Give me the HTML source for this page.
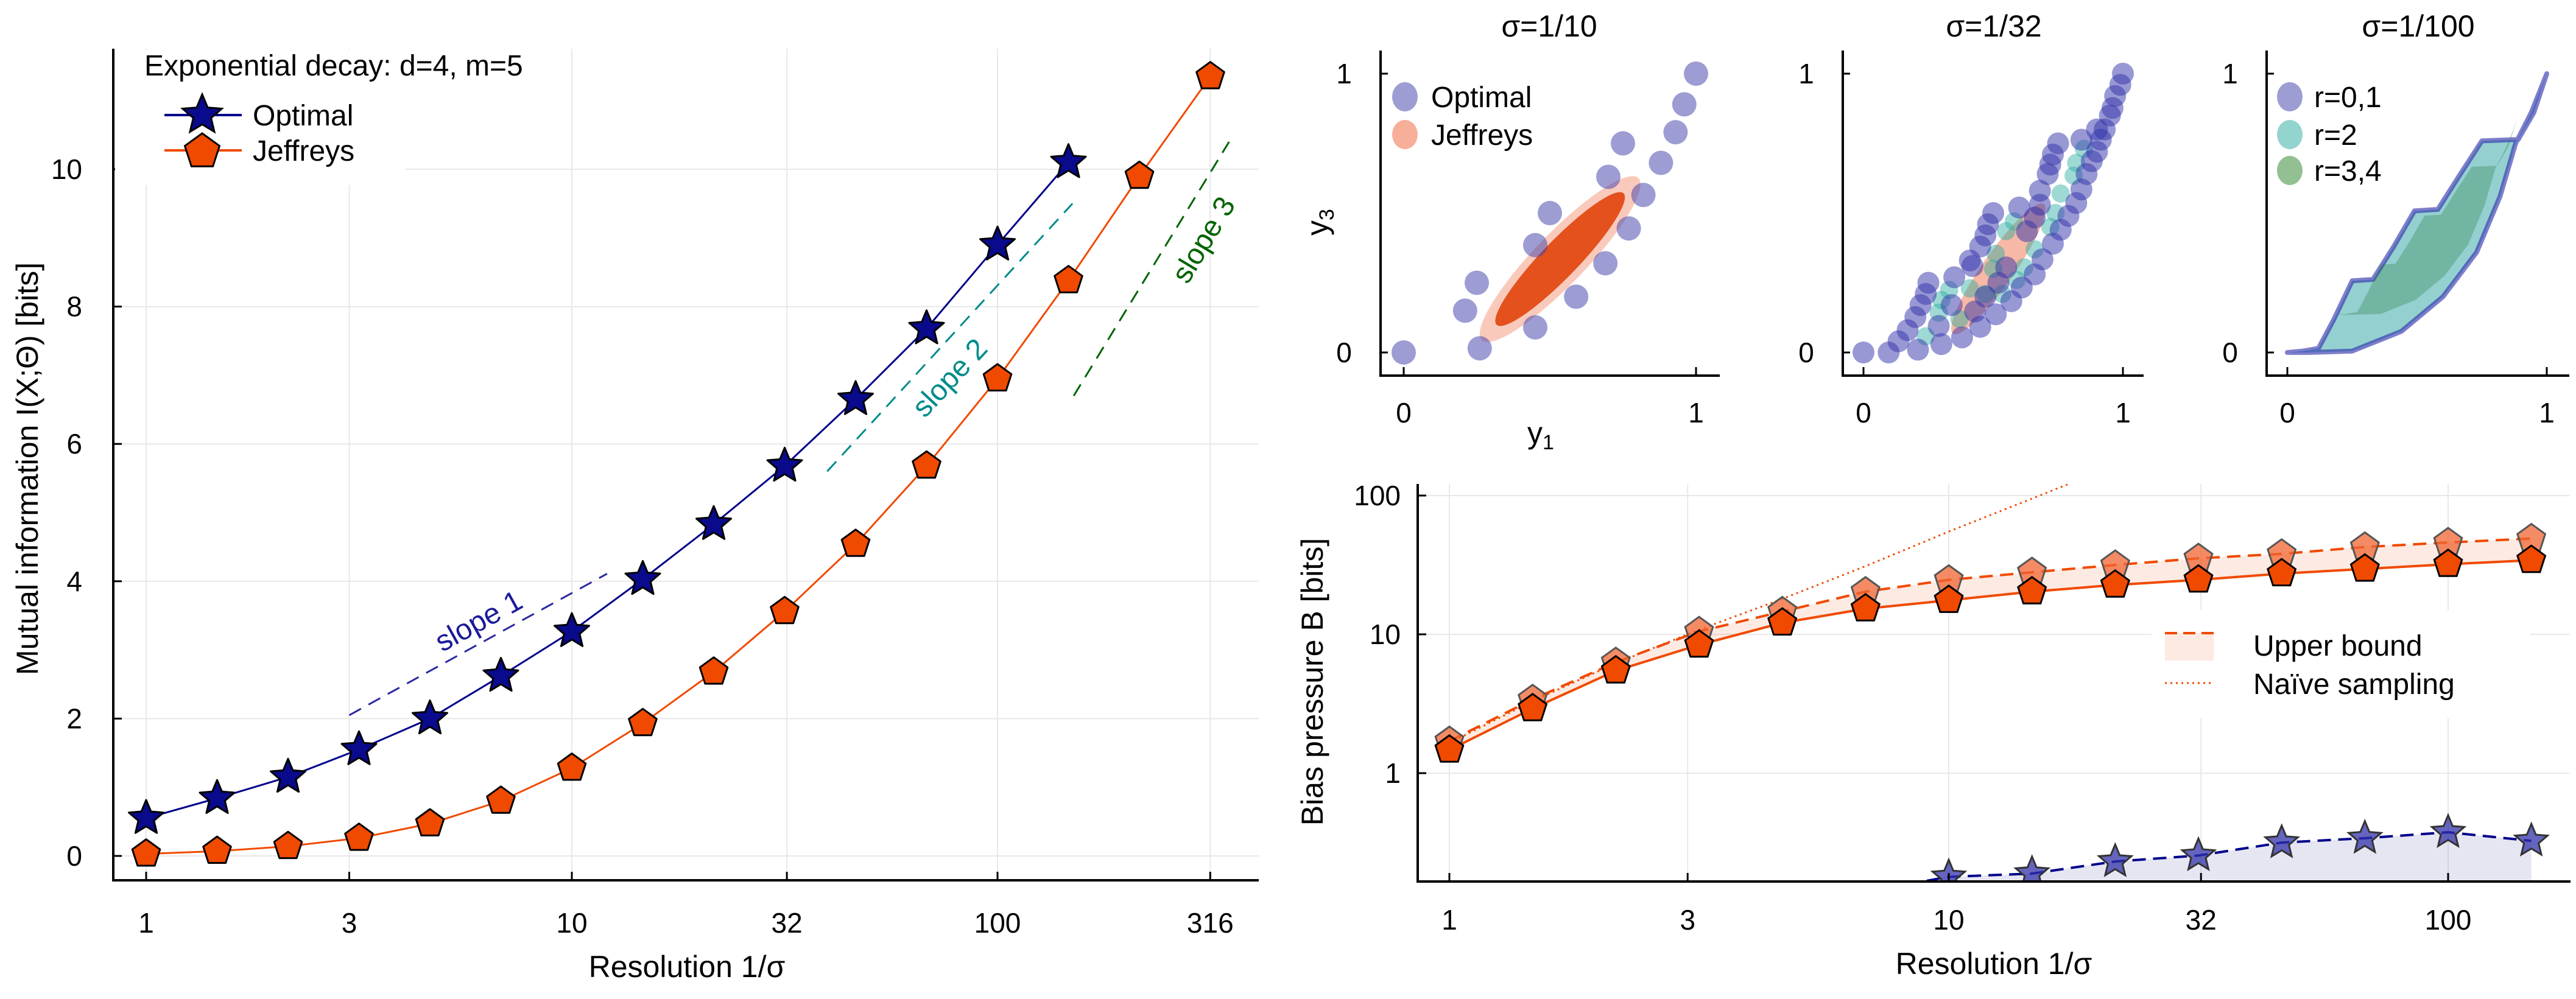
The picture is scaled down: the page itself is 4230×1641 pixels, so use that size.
<!DOCTYPE html>
<html><head><meta charset="utf-8"><title>Mutual information and bias pressure</title>
<style>
html,body{margin:0;padding:0;background:#fff;}
svg{display:block;font-family:"Liberation Sans","DejaVu Sans",sans-serif;}
.tk{font-size:46px;fill:#000;}
.lab{font-size:50px;fill:#000;}
.leg{font-size:48px;fill:#000;}
</style></head>
<body>
<svg id="fig" width="4230" height="1641" viewBox="0 0 4230 1641" xmlns="http://www.w3.org/2000/svg">
<defs>
<clipPath id="clipL"><rect x="186" y="75" width="1885" height="1373"/></clipPath>
<clipPath id="clipB"><rect x="2328" y="795" width="1893" height="653"/></clipPath>
</defs>
<rect x="0" y="0" width="4230" height="1641" fill="#fff"/>
<g id="gridL"></g>
<g id="gridB"></g>
<g id="marksL" clip-path="url(#clipL)"></g>
<g id="marksB" clip-path="url(#clipB)"></g>
<g id="scat"></g>
<g id="axes"></g>

<text class="lab" x="1128" y="1605" text-anchor="middle">Resolution 1/σ</text>
<text class="lab" transform="translate(62,770) rotate(-90)" text-anchor="middle">Mutual information I(X;Θ) [bits]</text>
<text class="lab" x="3274" y="1600" text-anchor="middle">Resolution 1/σ</text>
<text class="lab" transform="translate(2172,1120) rotate(-90)" text-anchor="middle">Bias pressure B [bits]</text>
<text class="lab" x="2544" y="60" text-anchor="middle">σ=1/10</text>
<text class="lab" x="3274" y="60" text-anchor="middle">σ=1/32</text>
<text class="lab" x="3971" y="60" text-anchor="middle">σ=1/100</text>
<text class="lab" x="2530" y="728" text-anchor="middle">y<tspan font-size="34" dy="10">1</tspan></text>
<text class="lab" transform="translate(2180,365) rotate(-90)" text-anchor="middle">y<tspan font-size="34" dy="10">3</tspan></text>
</svg>
<script>
// ---------- data ----------
const optK = [0,1,2,3,4,5,6,7,8,9,10,11,12,13];
const optMI = [0.55,0.84,1.15,1.55,2.0,2.62,3.27,4.03,4.83,5.68,6.65,7.68,8.9,10.1];
const jefK = [0,1,2,3,4,5,6,7,8,9,10,11,12,13,14,15];
const jefMI = [0.03,0.07,0.14,0.26,0.47,0.8,1.28,1.93,2.68,3.56,4.54,5.68,6.95,8.38,9.9,11.35];
const slopeX = [[3,12.1],[39.8,150],[151,350]];
const slopeY = [[2.05,4.11],[5.6,9.5],[6.7,10.4]];
const xTickVals = [1,3,10,32,100,316];
const xTickLabels = ['1','3','10','32','100','316'];
const yTickVals = [0,2,4,6,8,10];
const yTickLabels = ['0','2','4','6','8','10'];

const bK = [0,1,2,3,4,5,6,7,8,9,10,11,12,13];
const bJef = [1.47,2.92,5.47,8.4,12.1,15.3,17.6,20.3,22.7,24.7,27.4,29.6,32,34.2];
const bUpper = [1.7,3.4,6.3,10.5,14.6,20.3,24.7,28,31.6,35.3,38,42.6,45.9,49];
const bNaiveK = [0,1,2,3,4,5,6,7,8];
const bNaive = [1.65,3.3,6.2,10.8,18,31,55,95,165];
const bOptK = [5,6,7,8,9,10,11,12,13];
const bOpt = [0.14,0.179,0.189,0.231,0.255,0.316,0.34,0.375,0.325];
const bXTickVals = [1,3,10,32,100];
const bXTickLabels = ['1','3','10','32','100'];
const bYTickVals = [1,10,100];
const bYTickLabels = ['1','10','100'];

const s1OptU = [0,0.26,0.21,0.25,0.45,0.59,0.45,0.69,0.5,0.77,0.7,0.82,0.88,0.75,0.93,0.96,1];
const s1OptV = [0,0.015,0.15,0.25,0.09,0.2,0.385,0.32,0.5,0.445,0.63,0.565,0.68,0.75,0.79,0.89,1];
const s2OptU = [0,0.097,0.135,0.17,0.2,0.22,0.24,0.25,0.21,0.3,0.38,0.45,0.51,0.57,0.61,0.66,0.69,0.73,0.76,0.79,0.82,0.84,0.86,0.88,0.9,0.915,0.93,0.95,0.96,0.97,0.99,1,0.29,0.34,0.35,0.42,0.41,0.45,0.47,0.48,0.5,0.6,0.63,0.66,0.68,0.68,0.71,0.72,0.73,0.75,0.84,0.9,0.55,0.52,0.47,0.43];
const s2OptV = [0,0,0.04,0.08,0.127,0.17,0.21,0.25,0.01,0.03,0.054,0.092,0.137,0.184,0.233,0.28,0.334,0.39,0.44,0.49,0.536,0.585,0.64,0.686,0.72,0.763,0.8,0.85,0.877,0.92,0.96,1,0.095,0.17,0.27,0.31,0.33,0.38,0.42,0.46,0.5,0.52,0.435,0.484,0.53,0.58,0.64,0.674,0.71,0.75,0.763,0.8,0.305,0.25,0.2,0.147];
const s2TealU = [0.24,0.29,0.3,0.33,0.37,0.41,0.47,0.5,0.51,0.55,0.58,0.62,0.66,0.72,0.74,0.76,0.81,0.82,0.85,0.59,0.535];
const s2TealV = [0.058,0.143,0.188,0.224,0.12,0.23,0.21,0.3,0.354,0.435,0.47,0.305,0.37,0.45,0.5,0.57,0.634,0.68,0.73,0.26,0.21];
const s3UpperU = [0,0.06,0.12,0.18,0.25,0.33,0.41,0.49,0.58,0.66,0.75,0.89,0.95,1];
const s3UpperV = [0,0.005,0.015,0.12,0.257,0.262,0.38,0.508,0.513,0.63,0.759,0.764,0.86,1];
const s3LowerU = [1,0.94,0.88,0.82,0.73,0.6,0.44,0.25,0.08];
const s3LowerV = [1,0.86,0.75,0.56,0.36,0.2,0.076,0.005,0];

// ---------- helpers ----------
const NS='http://www.w3.org/2000/svg';
function mk(parent, tag, attrs, name){
  const el=document.createElementNS(NS,tag);
  for(const k in attrs) el.setAttribute(k,attrs[k]);
  
  
  parent.appendChild(el);
  return el;
}
function txt(parent, x,y,s,cls,anchor,name){
  const t=mk(parent,'text',{x:x,y:y,'class':cls,'text-anchor':anchor},name);
  t.textContent=s; return t;
}
function starPts(cx,cy,R){const r=R*0.45;let p=[];for(let i=0;i<10;i++){const a=-Math.PI/2+i*Math.PI/5;const rr=i%2?r:R;p.push((cx+rr*Math.cos(a)).toFixed(1)+','+(cy+rr*Math.sin(a)).toFixed(1));}return p.join(' ');}
function pentPts(cx,cy,R){let p=[];for(let i=0;i<5;i++){const a=-Math.PI/2+i*2*Math.PI/5;p.push((cx+R*Math.cos(a)).toFixed(1)+','+(cy+R*Math.sin(a)).toFixed(1));}return p.join(' ');}

const gridL=document.getElementById('gridL'), gridB=document.getElementById('gridB');
const mL=document.getElementById('marksL'), mB=document.getElementById('marksB');
const axes=document.getElementById('axes'), scat=document.getElementById('scat');
const svg=document.getElementById('fig');

// ---------- left panel ----------
const LX=v=>240+699*Math.log10(v);
const LY=v=>1406-112.8*v;
const kx=k=>Math.pow(10,k/6);
xTickVals.forEach((v,i)=>{
  mk(gridL,'line',{x1:LX(v),x2:LX(v),y1:80,y2:1446,stroke:'#e8e8e8','stroke-width':2},'left-x-gridline');
  mk(axes,'line',{x1:LX(v),x2:LX(v),y1:1446,y2:1432,stroke:'#000','stroke-width':3},'left-x-tick');
  txt(axes,LX(v),1532,xTickLabels[i],'tk','middle','left-x-tick-label');
});
yTickVals.forEach((v,i)=>{
  mk(gridL,'line',{x1:186,x2:2067,y1:LY(v),y2:LY(v),stroke:'#e8e8e8','stroke-width':2},'left-y-gridline');
  mk(axes,'line',{x1:186,x2:200,y1:LY(v),y2:LY(v),stroke:'#000','stroke-width':3},'left-y-tick');
  txt(axes,135,LY(v)+16,yTickLabels[i],'tk','end','left-y-tick-label');
});
mk(axes,'line',{x1:186,x2:2067,y1:1446,y2:1446,stroke:'#000','stroke-width':4},'left-x-axis');
mk(axes,'line',{x1:186,x2:186,y1:80,y2:1448,stroke:'#000','stroke-width':4},'left-y-axis');

const slopeCols=['#2a2aa0','#008b8b','#006400'];
slopeX.forEach((xs,i)=>{
  mk(mL,'line',{x1:LX(xs[0]),y1:LY(slopeY[i][0]),x2:LX(xs[1]),y2:LY(slopeY[i][1]),stroke:slopeCols[i],'stroke-width':3,'stroke-dasharray':'22 14'},'slope-line');
});
const slopeLab=[['slope 1',787,1022,-29,'#1a1a9a'],['slope 2',1561,622,-47,'#008b8b'],['slope 3',1978,395,-59,'#006400']];
slopeLab.forEach(s=>{
  const t=mk(svg,'text',{x:s[1],y:s[2]+14,'text-anchor':'middle','font-size':48,fill:s[4],transform:'rotate('+s[3]+' '+s[1]+' '+s[2]+')'},'slope-label');
  t.textContent=s[0];
});
mk(mL,'polyline',{points:optK.map((k,i)=>LX(kx(k))+','+LY(optMI[i])).join(' '),fill:'none',stroke:'#00008b','stroke-width':3},'optimal-line');
mk(mL,'polyline',{points:jefK.map((k,i)=>LX(kx(k))+','+LY(jefMI[i])).join(' '),fill:'none',stroke:'#f04a00','stroke-width':3},'jeffreys-line');
optK.forEach((k,i)=>{mk(mL,'polygon',{points:starPts(LX(kx(k)),LY(optMI[i]),30),fill:'#0a0a8c',stroke:'#000','stroke-width':3,'stroke-linejoin':'round'},'optimal-point');});
jefK.forEach((k,i)=>{mk(mL,'polygon',{points:pentPts(LX(kx(k)),LY(jefMI[i]),24),fill:'#f04a00',stroke:'#000','stroke-width':3,'stroke-linejoin':'round'},'jeffreys-point');});
const lg=mk(svg,'g',{},'left-legend');
mk(lg,'rect',{x:189,y:82,width:476,height:222,fill:'#fff'},'left-legend-box');
txt(lg,237,124,'Exponential decay: d=4, m=5','leg','start','left-legend-title');
mk(lg,'line',{x1:270,x2:397,y1:189,y2:189,stroke:'#00008b','stroke-width':4},'legend-optimal-line');
mk(lg,'polygon',{points:starPts(332,189,34),fill:'#0a0a8c',stroke:'#000','stroke-width':3},'legend-optimal-marker');
txt(lg,415,206,'Optimal','leg','start','legend-optimal-label');
mk(lg,'line',{x1:270,x2:397,y1:247,y2:247,stroke:'#f04a00','stroke-width':4},'legend-jeffreys-line');
mk(lg,'polygon',{points:pentPts(332,249,30),fill:'#f04a00',stroke:'#000','stroke-width':3},'legend-jeffreys-marker');
txt(lg,415,264,'Jeffreys','leg','start','legend-jeffreys-label');

// ---------- bias panel ----------
const BX=v=>2380+820*Math.log10(v);
const BY=v=>1270-228*Math.log10(v);
bXTickVals.forEach((v,i)=>{
  mk(gridB,'line',{x1:BX(v),x2:BX(v),y1:795,y2:1448,stroke:'#e8e8e8','stroke-width':2},'bias-x-gridline');
  mk(axes,'line',{x1:BX(v),x2:BX(v),y1:1448,y2:1434,stroke:'#000','stroke-width':3},'bias-x-tick');
  txt(axes,BX(v),1527,bXTickLabels[i],'tk','middle','bias-x-tick-label');
});
bYTickVals.forEach((v,i)=>{
  mk(gridB,'line',{x1:2328,x2:4219,y1:BY(v),y2:BY(v),stroke:'#e8e8e8','stroke-width':2},'bias-y-gridline');
  mk(axes,'line',{x1:2328,x2:2342,y1:BY(v),y2:BY(v),stroke:'#000','stroke-width':3},'bias-y-tick');
  txt(axes,2300,BY(v)+16,bYTickLabels[i],'tk','end','bias-y-tick-label');
});
mk(axes,'line',{x1:2328,x2:4221,y1:1448,y2:1448,stroke:'#000','stroke-width':4},'bias-x-axis');
mk(axes,'line',{x1:2328,x2:2328,y1:795,y2:1450,stroke:'#000','stroke-width':4},'bias-y-axis');

const upPts=bK.map((k,i)=>BX(kx(k))+','+BY(bUpper[i]));
const jfPts=bK.map((k,i)=>BX(kx(k))+','+BY(bJef[i]));
mk(mB,'polygon',{points:upPts.concat(jfPts.slice().reverse()).join(' '),fill:'rgba(240,90,40,0.13)'},'upper-bound-band');
const opPts=bOptK.map((k,i)=>BX(kx(k))+','+BY(bOpt[i]));
mk(mB,'polygon',{points:opPts.join(' ')+' '+BX(kx(13))+',1448 '+BX(kx(5))+',1448',fill:'rgba(60,60,160,0.13)'},'optimal-bias-band');
mk(mB,'polyline',{points:bNaiveK.map((k,i)=>BX(kx(k))+','+BY(bNaive[i])).join(' '),fill:'none',stroke:'#f04a00','stroke-width':3,'stroke-dasharray':'3 6'},'naive-sampling-line');
mk(mB,'polyline',{points:upPts.join(' '),fill:'none',stroke:'#f04a00','stroke-width':4,'stroke-dasharray':'22 12'},'upper-bound-line');
mk(mB,'polyline',{points:jfPts.join(' '),fill:'none',stroke:'#f04a00','stroke-width':4},'jeffreys-bias-line');
mk(mB,'polyline',{points:opPts.join(' '),fill:'none',stroke:'#00008b','stroke-width':4,'stroke-dasharray':'22 12'},'optimal-bias-line');
bK.forEach((k,i)=>{mk(mB,'polygon',{points:pentPts(BX(kx(k)),BY(bUpper[i]),24),fill:'rgba(240,100,50,0.75)',stroke:'#555','stroke-width':3},'upper-bound-point');});
bK.forEach((k,i)=>{mk(mB,'polygon',{points:pentPts(BX(kx(k)),BY(bJef[i]),24),fill:'#f04a00',stroke:'#000','stroke-width':3},'jeffreys-bias-point');});
bOptK.forEach((k,i)=>{ if(i>0) mk(mB,'polygon',{points:starPts(BX(kx(k)),BY(bOpt[i]),28),fill:'rgba(50,50,170,0.75)',stroke:'#333','stroke-width':3},'optimal-bias-point');});
const bl=mk(svg,'g',{},'bias-legend');
mk(bl,'rect',{x:3533,y:1002,width:622,height:178,fill:'#fff'},'bias-legend-box');
mk(bl,'rect',{x:3555,y:1040,width:80,height:45,fill:'rgba(240,90,40,0.13)'},'legend-upper-band');
mk(bl,'line',{x1:3555,x2:3635,y1:1040,y2:1040,stroke:'#f04a00','stroke-width':4,'stroke-dasharray':'20 10'},'legend-upper-line');
txt(bl,3700,1077,'Upper bound','leg','start','legend-upper-label');
mk(bl,'line',{x1:3555,x2:3635,y1:1122,y2:1122,stroke:'#f04a00','stroke-width':3,'stroke-dasharray':'3 6'},'legend-naive-line');
txt(bl,3700,1140,'Naïve sampling','leg','start','legend-naive-label');

// ---------- scatter panels ----------
const panels=[{x0:2305,w:480,ax:2267,ar:2824},{x0:3060,w:426,ax:3026,ar:3520},{x0:3756,w:426,ax:3722,ar:4219}];
const SY=v=>579-458*v;
panels.forEach((p,pi)=>{
  mk(axes,'line',{x1:p.ax,x2:p.ar,y1:617,y2:617,stroke:'#000','stroke-width':4},'scatter-x-axis');
  mk(axes,'line',{x1:p.ax,x2:p.ax,y1:83,y2:619,stroke:'#000','stroke-width':4},'scatter-y-axis');
  [0,1].forEach(v=>{
    mk(axes,'line',{x1:p.x0+p.w*v,x2:p.x0+p.w*v,y1:617,y2:603,stroke:'#000','stroke-width':3},'scatter-x-tick');
    txt(axes,p.x0+p.w*v,694,String(v),'tk','middle','scatter-x-tick-label');
    mk(axes,'line',{x1:p.ax,x2:p.ax+12,y1:SY(v),y2:SY(v),stroke:'#000','stroke-width':3},'scatter-y-tick');
    txt(axes,p.ax-60,SY(v)+16,String(v),'tk','middle','scatter-y-tick-label');
  });
});
const P1=u=>2305+480*u, P2=u=>3060+426*u, P3=u=>3756+426*u;
const c1x=P1(0.535), c1y=SY(0.335);
mk(scat,'ellipse',{cx:c1x,cy:c1y,rx:185,ry:42,fill:'rgba(235,80,30,0.3)',transform:'rotate(-46 '+c1x+' '+c1y+')'},'jeffreys-cloud-outer');
mk(scat,'ellipse',{cx:c1x,cy:c1y,rx:150,ry:30,fill:'rgba(225,60,0,0.85)',transform:'rotate(-46 '+c1x+' '+c1y+')'},'jeffreys-cloud-core');
s1OptU.forEach((u,i)=>{mk(scat,'circle',{cx:P1(u),cy:SY(s1OptV[i]),r:20,fill:'rgba(60,60,170,0.5)'},'optimal-sample');});
const c2x=P2(0.52), c2y=SY(0.3);
mk(scat,'ellipse',{cx:c2x,cy:c2y,rx:130,ry:26,fill:'rgba(235,80,30,0.4)',transform:'rotate(-55 '+c2x+' '+c2y+')'},'jeffreys-cloud-2');
s2TealU.forEach((u,i)=>{mk(scat,'circle',{cx:P2(u),cy:SY(s2TealV[i]),r:15,fill:'rgba(40,170,160,0.45)'},'teal-sample');});
s2OptU.forEach((u,i)=>{mk(scat,'circle',{cx:P2(u),cy:SY(s2OptV[i]),r:18,fill:'rgba(50,50,170,0.5)'},'optimal-sample-2');});
const bandPts=s3UpperU.map((u,i)=>P3(u)+','+SY(s3UpperV[i])).concat(s3LowerU.map((u,i)=>P3(u)+','+SY(s3LowerV[i])));
mk(scat,'polygon',{points:bandPts.join(' '),fill:'rgba(60,170,170,0.55)',stroke:'rgba(40,40,170,0.6)','stroke-width':8,'stroke-linejoin':'round'},'manifold-band');
mk(scat,'polygon',{points:bandPts.join(' '),fill:'rgba(40,120,60,0.3)',transform:'translate('+(P3(0.62)*0.3)+','+(SY(0.45)*0.3)+') scale(0.7)'},'manifold-core');
const sl=mk(svg,'g',{},'scatter-legend-1');
mk(sl,'ellipse',{cx:2307,cy:159,rx:21,ry:24,fill:'rgba(60,60,170,0.5)'},'legend-optimal-dot');
txt(sl,2350,176,'Optimal','leg','start','legend-optimal-text');
mk(sl,'ellipse',{cx:2307,cy:221,rx:21,ry:24,fill:'rgba(240,110,70,0.55)'},'legend-jeffreys-dot');
txt(sl,2350,238,'Jeffreys','leg','start','legend-jeffreys-text');
const sl3=mk(svg,'g',{},'scatter-legend-3');
[['r=0,1','rgba(60,60,170,0.5)',159],['r=2','rgba(40,170,160,0.5)',221],['r=3,4','rgba(40,130,40,0.5)',280]].forEach(e=>{
  mk(sl3,'ellipse',{cx:3760,cy:e[2],rx:21,ry:24,fill:e[1]},'legend-r-dot');
  txt(sl3,3800,e[2]+17,e[0],'leg','start','legend-r-text');
});
</script>
</body></html>
